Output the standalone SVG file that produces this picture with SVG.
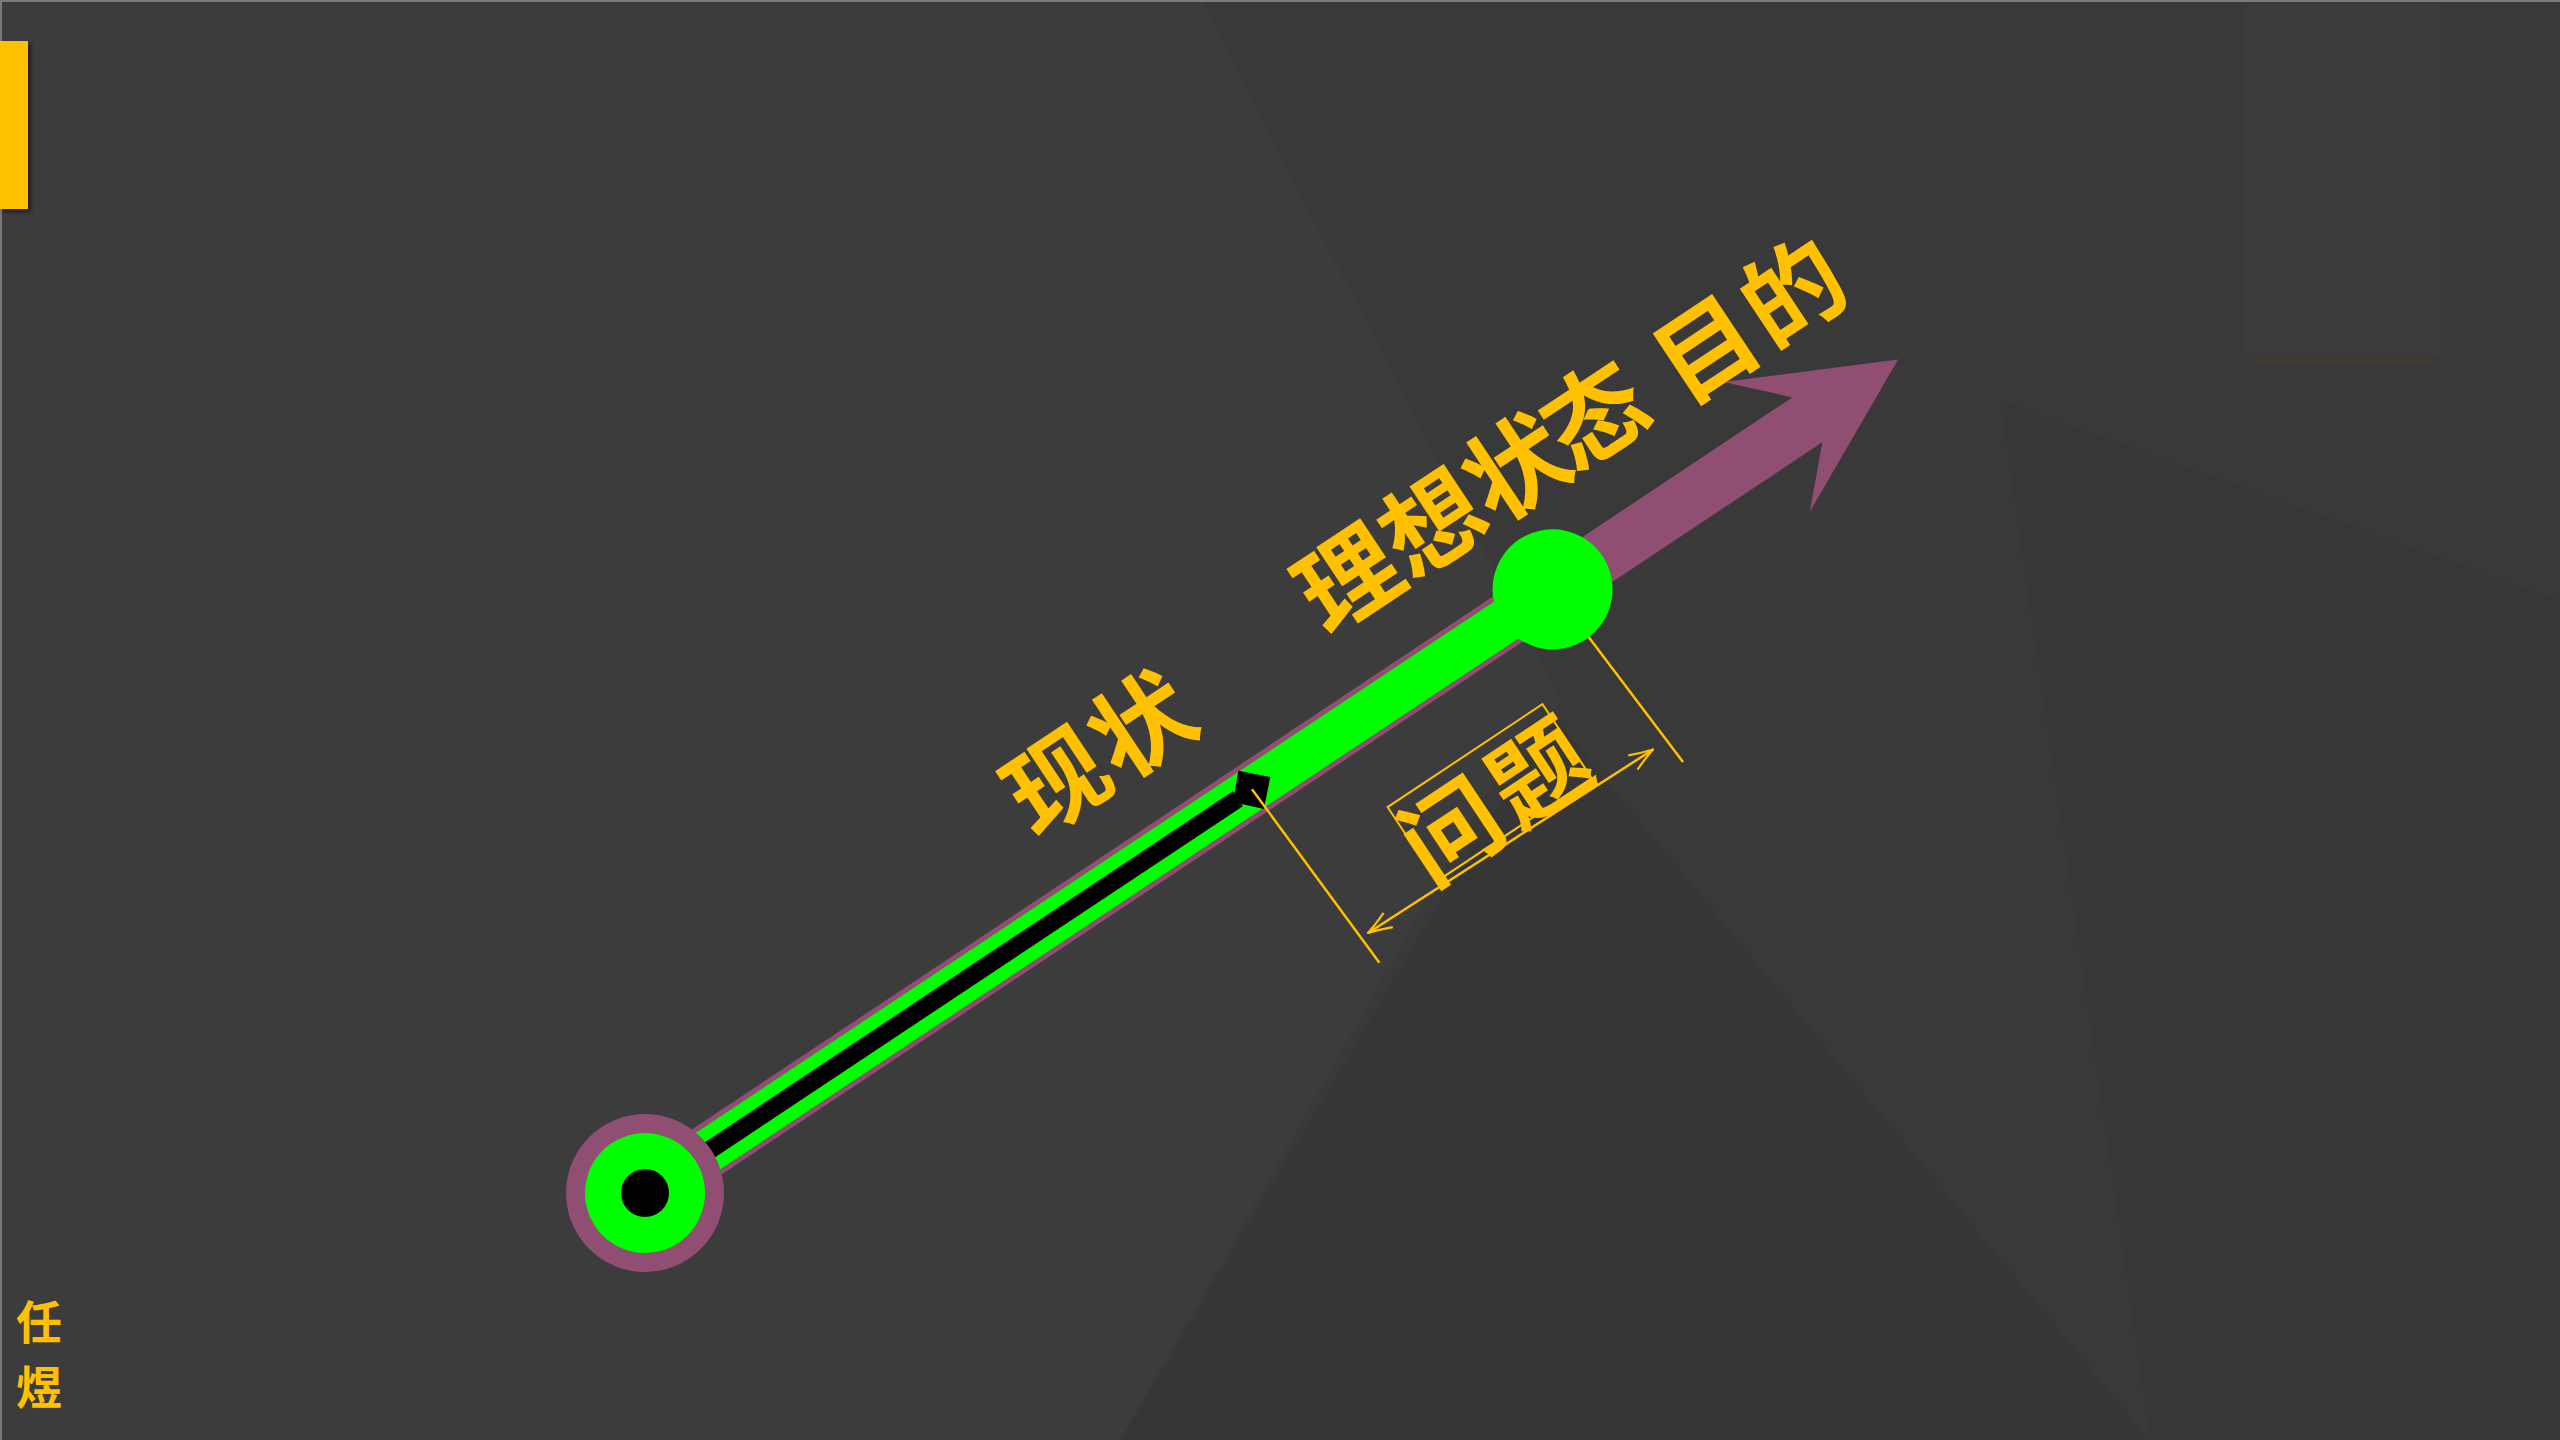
<svg xmlns="http://www.w3.org/2000/svg" width="2560" height="1440" viewBox="0 0 2560 1440">
  <style>
    .lbl { font-family: "Noto Sans CJK SC", "Noto Sans", sans-serif; font-weight: 700; fill: #FFC000; }
    .big { font-size: 100px; text-anchor: middle; }
    .dim { stroke: #FFC000; stroke-width: 2.5; fill: none; }
    .purple { fill: #8F4E72; }
    .green { fill: #00FF00; }
  </style>
  <defs>
    <marker id="openArrow" markerUnits="userSpaceOnUse" viewBox="0 0 26 20" markerWidth="26" markerHeight="20" refX="25" refY="10" orient="auto-start-reverse">
      <path d="M1,1.5 Q14,7 25,10 Q14,13 1,18.5" fill="none" stroke="#FFC000" stroke-width="2.2"/>
    </marker>
    <filter id="sh" x="-20%" y="-20%" width="140%" height="140%">
      <feDropShadow dx="3" dy="3" stdDeviation="2" flood-color="#000" flood-opacity="0.5"/>
    </filter>
  </defs>

  <!-- background -->
  <g id="background">
    <rect x="0" y="0" width="2560" height="1440" fill="#3c3c3c"/>
    <polygon points="1200,0 2560,0 2560,1440 1120,1440 1560,700" fill="#000" opacity="0.035"/>
    <polygon points="1120,1440 1540,700 2150,1440" fill="#000" opacity="0.035"/>
    <polygon points="2000,400 2560,600 2560,1440 2150,1440" fill="#000" opacity="0.02"/>
    <rect x="2245" y="0" width="195" height="357" fill="#fff" opacity="0.012"/>
    <line x1="2255" y1="361" x2="2432" y2="361" stroke="#4a3f1e" stroke-width="5" opacity="0.5"/>
    <line x1="0" y1="1" x2="2560" y2="1" stroke="#7a7a7a" stroke-width="2"/>
    <line x1="1" y1="0" x2="1" y2="1440" stroke="#7a7a7a" stroke-width="2"/>
    <rect x="0" y="41" width="28" height="168" fill="#FFC000" filter="url(#sh)"/>
  </g>

  <g id="main" transform="translate(645,1193) rotate(-33.63)">
    <!-- connectors -->
    <g id="connectors">
      <path id="big-arrow" class="purple" d="M0,-27 L1396,-27 L1347,-78 L1505,0 L1347,78 L1396,27 L0,27 Z"/>
      <rect id="green-bar" class="green" x="0" y="-22" width="1090" height="44"/>
      <path id="black-line" d="M0,0 L712,0" stroke="#000" stroke-width="18" fill="none"/>
      <polygon id="black-head" points="706,0 728,-23 751,0 728,23" fill="#000"/>
      <line id="ext1" class="dim" x1="729" y1="0" x2="739" y2="215"/>
      <line id="ext2" class="dim" x1="1090" y1="0" x2="1103" y2="216"/>
      <line id="dimline" class="dim" x1="746" y1="184" x2="1085" y2="189" stroke-width="2" marker-start="url(#openArrow)" marker-end="url(#openArrow)"/>
    </g>

    <g id="node-start">
      <circle class="purple" cx="0" cy="0" r="79"/>
      <circle class="green" cx="0" cy="0" r="60"/>
      <circle cx="0" cy="0" r="24" fill="#000"/>
    </g>

    <g id="node-ideal">
      <circle class="green" cx="1090" cy="0" r="60"/>
    </g>

    <g id="label-current">
      <text class="lbl big" x="571" y="-78">现</text>
      <text class="lbl big" x="673" y="-78">状</text>
    </g>
    <g id="label-ideal">
      <text class="lbl big" x="926" y="-85">理</text>
      <text class="lbl big" x="1027" y="-85">想</text>
      <text class="lbl big" x="1127" y="-85">状</text>
      <text class="lbl big" x="1222" y="-85">态</text>
    </g>
    <g id="label-goal">
      <text class="lbl big" x="1351" y="-78">目</text>
      <text class="lbl big" x="1455" y="-78">的</text>
    </g>
    <g id="node-problem">
      <rect x="832" y="90" width="186" height="89" fill="none" stroke="#FFC000" stroke-width="2"/>
      <text class="lbl big" x="872" y="181" style="font-size:98px">问</text>
      <text class="lbl big" x="977" y="181" style="font-size:98px">题</text>
    </g>
  </g>

  <g id="author">
    <text class="lbl" x="39" y="1339" font-size="46" text-anchor="middle">任</text>
    <text class="lbl" x="39" y="1404" font-size="46" text-anchor="middle">煜</text>
  </g>
</svg>
